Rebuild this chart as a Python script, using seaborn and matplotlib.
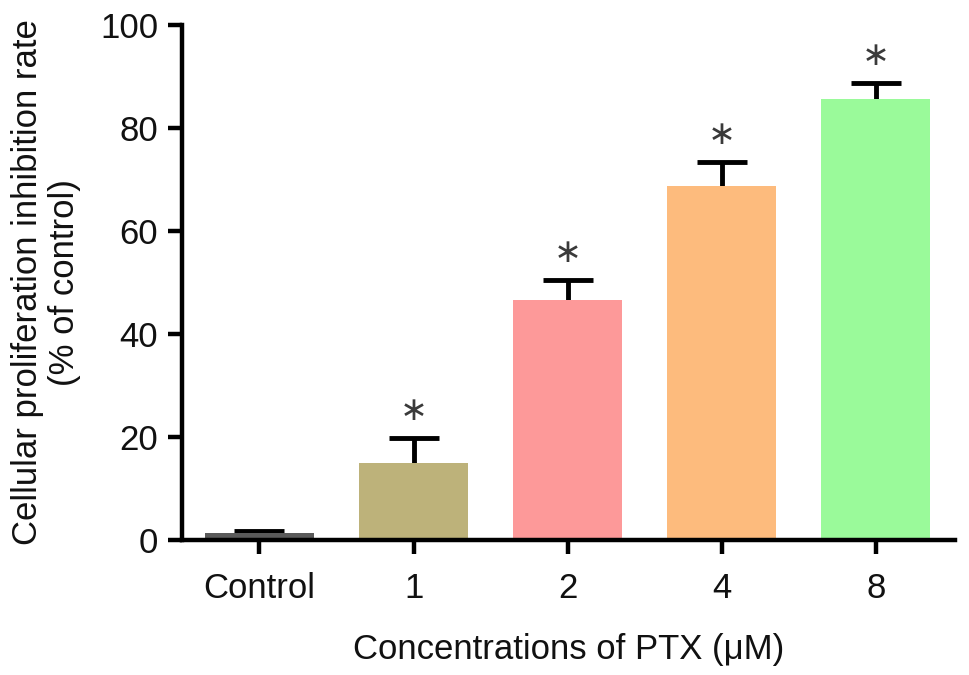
import matplotlib
matplotlib.use('Agg')
import numpy as np
import pandas as pd
import matplotlib.pyplot as plt
import seaborn as sns

# values
groups = ['Control', '1', '2', '4', '8']
means = [1.3, 14.95, 46.6, 68.8, 85.6]
errs = [0.5, 4.8, 3.9, 4.5, 3.1]
signif = ['', '*', '*', '*', '*']
colors = ['#5a5a5a', '#bdb27a', '#fd9999', '#fdbb7d', '#9afa9a']

df = pd.DataFrame({'group': groups, 'mean': means})

sns.set_style('ticks')
plt.rcParams['font.family'] = ['Liberation Sans', 'DejaVu Sans']

fig = plt.figure(figsize=(9.69, 6.75), dpi=100)
ax = fig.add_axes([0.1878, 0.2, 0.7977, 0.763])

sns.barplot(data=df, x='group', y='mean', hue='group', palette=colors,
            legend=False, errorbar=None, width=0.707, saturation=1,
            edgecolor='none', ax=ax, zorder=3)

# symmetric bars drawn behind the columns, so only the upper half shows
x = np.arange(len(groups))
ax.errorbar(x, means, yerr=errs, fmt='none', ecolor='black',
            elinewidth=3.5, capsize=18, capthick=3.5, zorder=2)

for xi, m, e, s in zip(x, means, errs, signif):
    if s:
        ax.text(xi, m + e + 5.4, '\u2217', ha='center', va='center',
                fontsize=24, color='#3a3a3a', family='DejaVu Sans')

ax.set_xlim(-0.503, 4.513)
ax.set_ylim(0, 100)
ax.set_yticks([0, 20, 40, 60, 80, 100])
ax.spines['top'].set_visible(False)
ax.spines['right'].set_visible(False)
for sp in ['left', 'bottom']:
    ax.spines[sp].set_linewidth(3.2)
    ax.spines[sp].set_color('black')
    ax.spines[sp].set_zorder(4)
ax.tick_params(axis='both', width=3.2, length=10, labelsize=25, pad=7,
               color='black', labelcolor='#111111')
ax.tick_params(axis='x', pad=13)

ax.set_xlabel('Concentrations of PTX (\u03bcM)', fontsize=25, labelpad=20,
              color='#111111')
ax.set_ylabel('Cellular proliferation inhibition rate\n(% of control)',
              fontsize=25, labelpad=14, linespacing=1.15, color='#111111')

fig.savefig('out.png', dpi=100)
